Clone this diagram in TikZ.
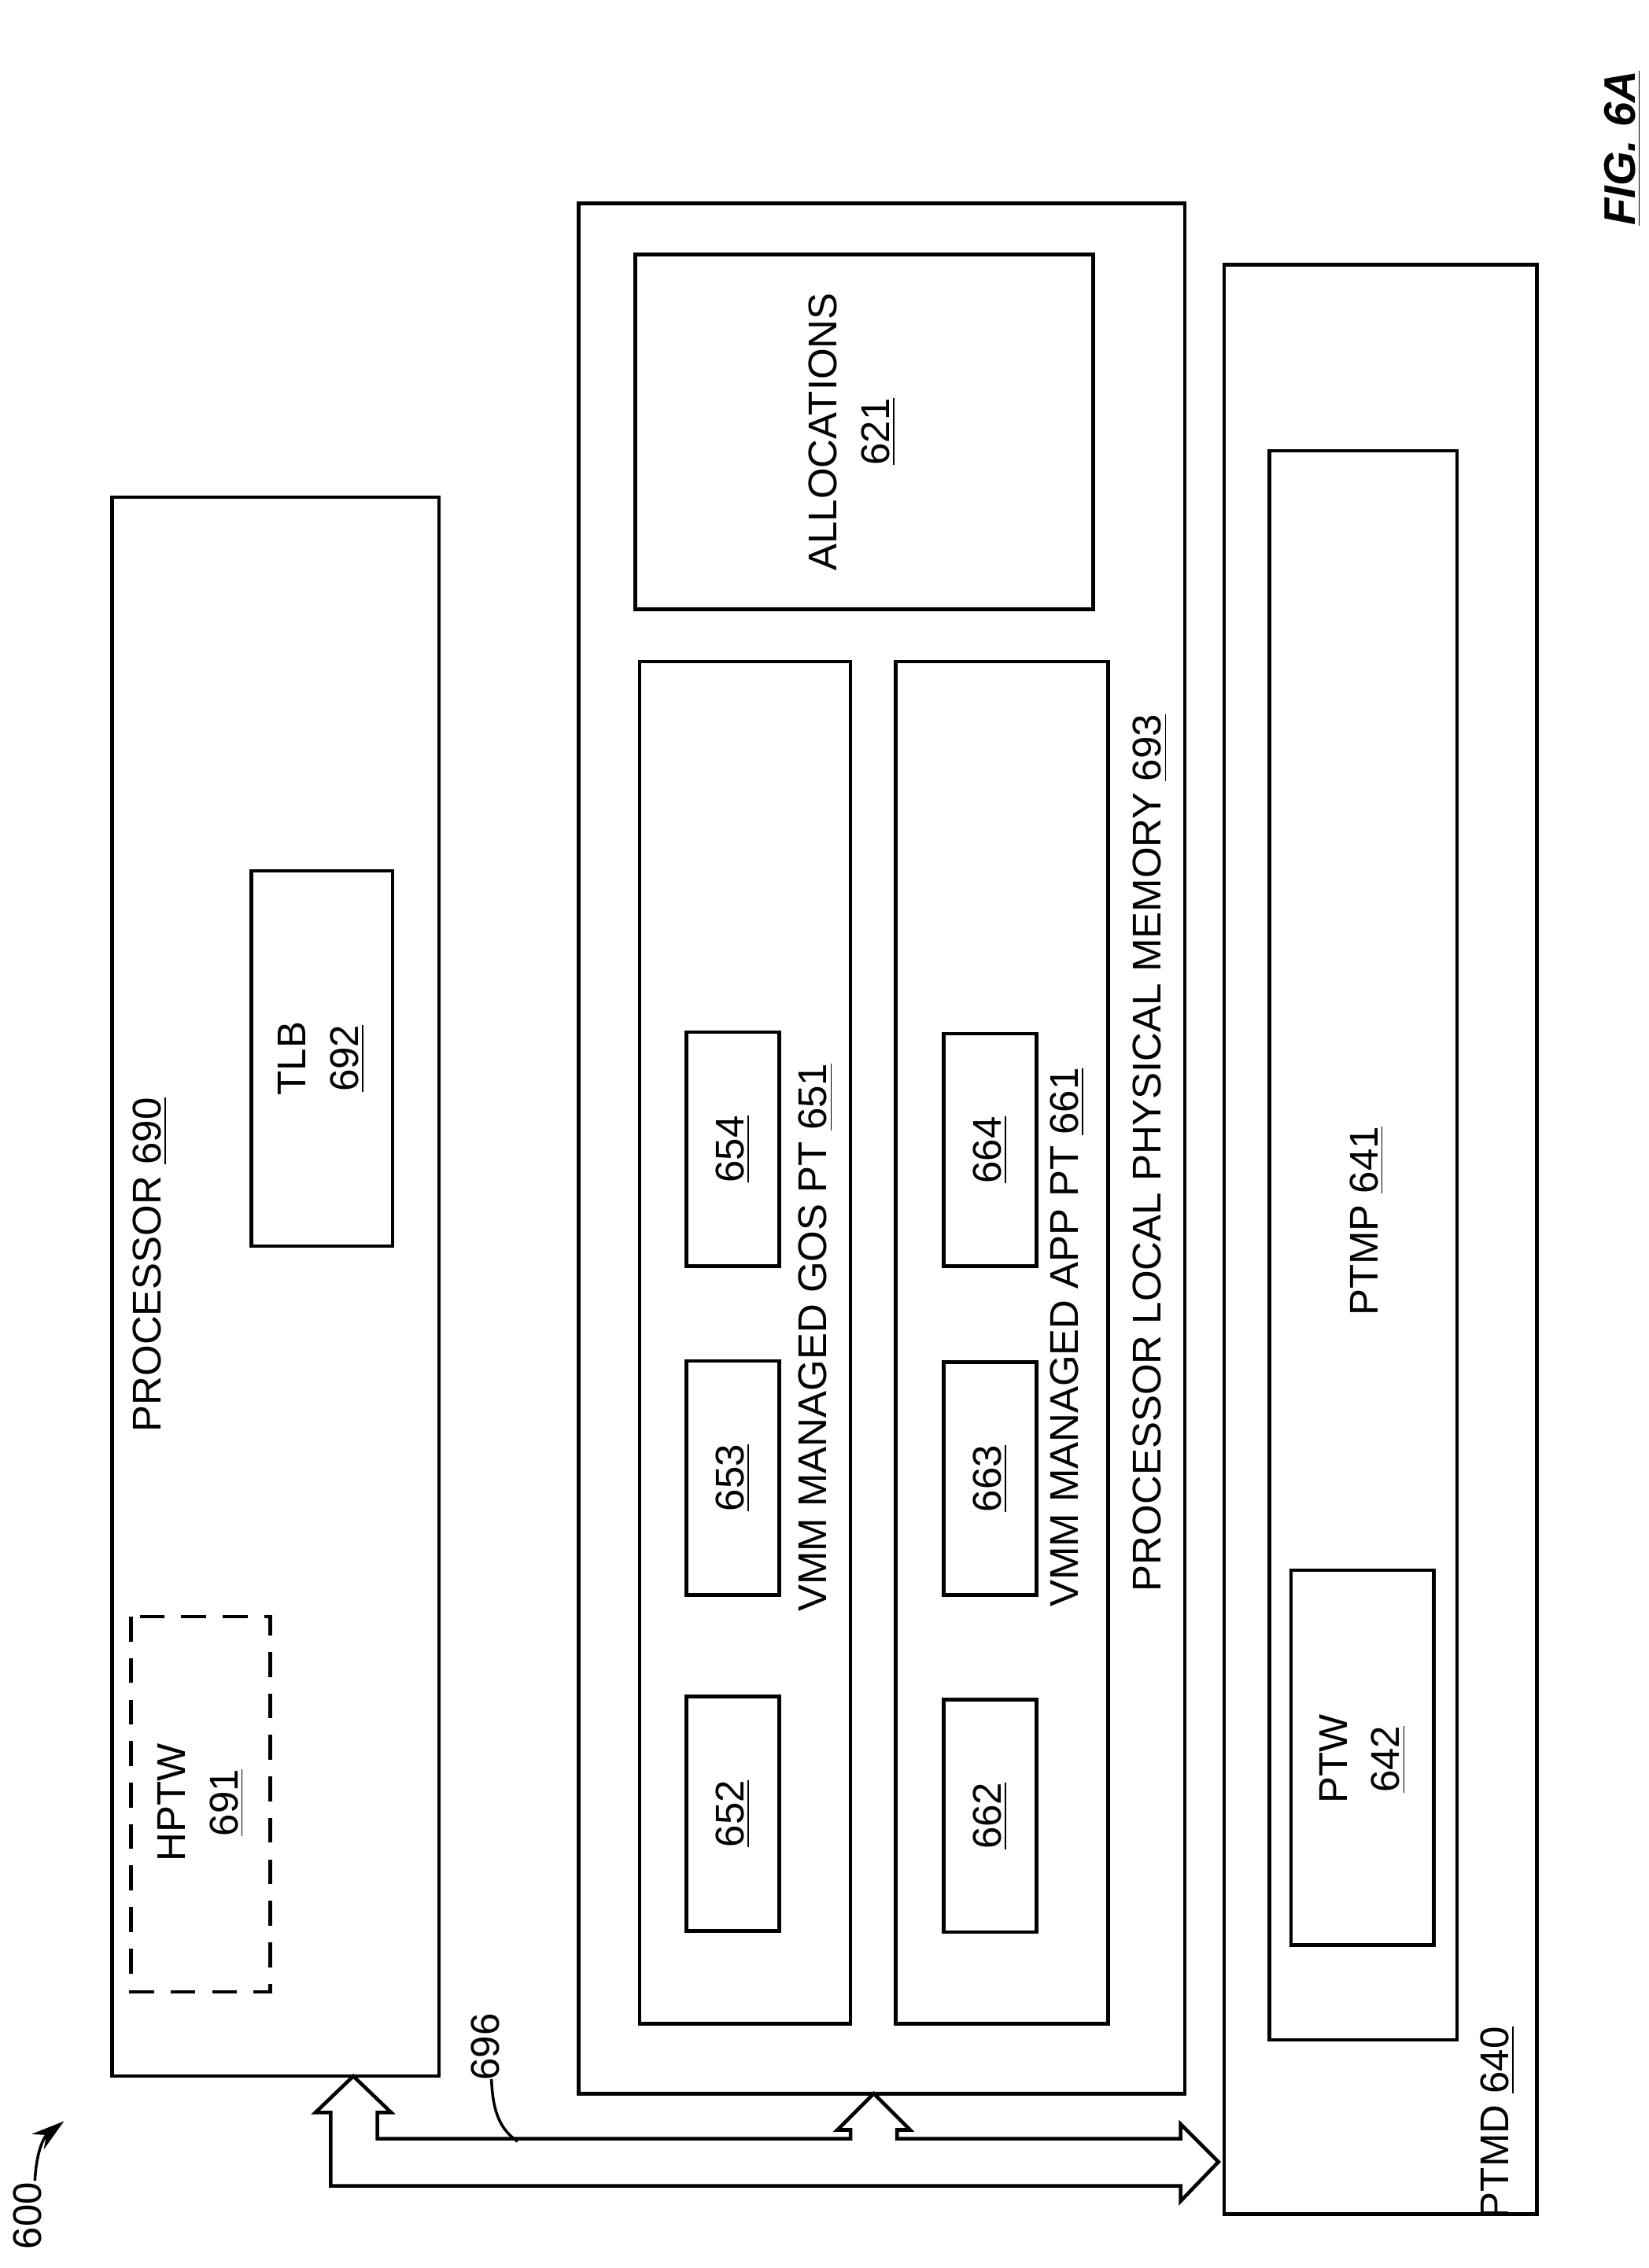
\documentclass[tikz,border=0pt]{standalone}
\usepackage{fontspec}
\setmainfont{Liberation Sans}
\usetikzlibrary{arrows.meta}
\begin{document}
\begin{tikzpicture}[x=0.01848cm,y=-0.01848cm,line width=1.1pt,
    box/.style={draw,line width=1.3pt},
    lbl/.style={rotate=90,font=\fontsize{14.5}{17}\selectfont,align=center,inner sep=0pt},
    bus/.style={draw,line width=1.3pt,fill=white,line join=miter}]
  \useasboundingbox (0,0) rectangle (1134,1560);

  % boxes
  \draw[box](77,342)rectangle(302,1428);
  \draw[box,dashed,dash pattern=on 9pt off 6pt](90,1112)rectangle(186,1370);
  \draw[box](173,599)rectangle(270,857);
  \draw[box](398,140)rectangle(815,1440);
  \draw[box](437,175)rectangle(752,419);
  \draw[box](440,455)rectangle(585,1392);
  \draw[box](616,455)rectangle(762,1392);
  \foreach\y/\t in{1167/652,936/653,710/654}\draw[box](472,\y)rectangle(536,\y+161)node[midway,lbl]{\underline{\t}};
  \foreach\y/\t in{1169/662,937/663,711/664}\draw[box](649,\y)rectangle(713,\y+160)node[midway,lbl]{\underline{\t}};
  \draw[box](842,182)rectangle(1057,1523);
  \draw[box](873,310)rectangle(1002,1403);
  \draw[box](888,1080)rectangle(986,1338);

  % labels
  \node[lbl](proc)at(103,870){PROCESSOR \underline{690}};
  \node[lbl](hptw)at(138,1240){HPTW\\[2pt]\underline{691}};
  \node[lbl](tlb)at(221,728){TLB\\[2pt]\underline{692}};
  \node[lbl](alloc)at(586,297){ALLOCATIONS\\[2pt]\underline{621}};
  \node[lbl](gos)at(561,920){VMM MANAGED GOS PT \underline{651}};
  \node[lbl](app)at(734,920){VMM MANAGED APP PT \underline{661}};
  \node[lbl](mem)at(791,793){PROCESSOR LOCAL PHYSICAL MEMORY \underline{693}};
  \node[lbl](ptmp)at(940,840){PTMP \underline{641}};
  \node[lbl](ptw)at(937,1210){PTW\\[2pt]\underline{642}};
  \node[lbl](ptmd)at(1030,1460){PTMD \underline{640}};
  \node[lbl,font=\fontsize{16}{19}\selectfont\bfseries\itshape](fig)at(1116,102){\underline{FIG. 6A}};
  \node[lbl](n696)at(334,1408){696};
  \node[lbl](n600)at(19,1524){600};

  % bus
  \draw[bus](243,1428)--(269,1453)--(259.5,1453)--(259.5,1471)--(585,1471)--(585,1465)--(576,1465)
    --(601,1440)--(626,1465)--(617,1465)--(617,1471)--(812,1471)--(812,1461)--(838,1487)
    --(812,1514)--(812,1503.5)--(227.5,1503.5)--(227.5,1453)--(217,1453)--cycle;
  \coordinate(lead)at(356,1473);
  \draw[line width=1pt](338,1430)..controls(339,1455)and(345,1465)..(lead);
  \coordinate(tip)at(44,1459);
  \draw[line width=1pt,-{Stealth[length=12pt,width=7pt]}](24,1500)..controls(25,1480)and(30,1470)..(tip);
\end{tikzpicture}
\end{document}
